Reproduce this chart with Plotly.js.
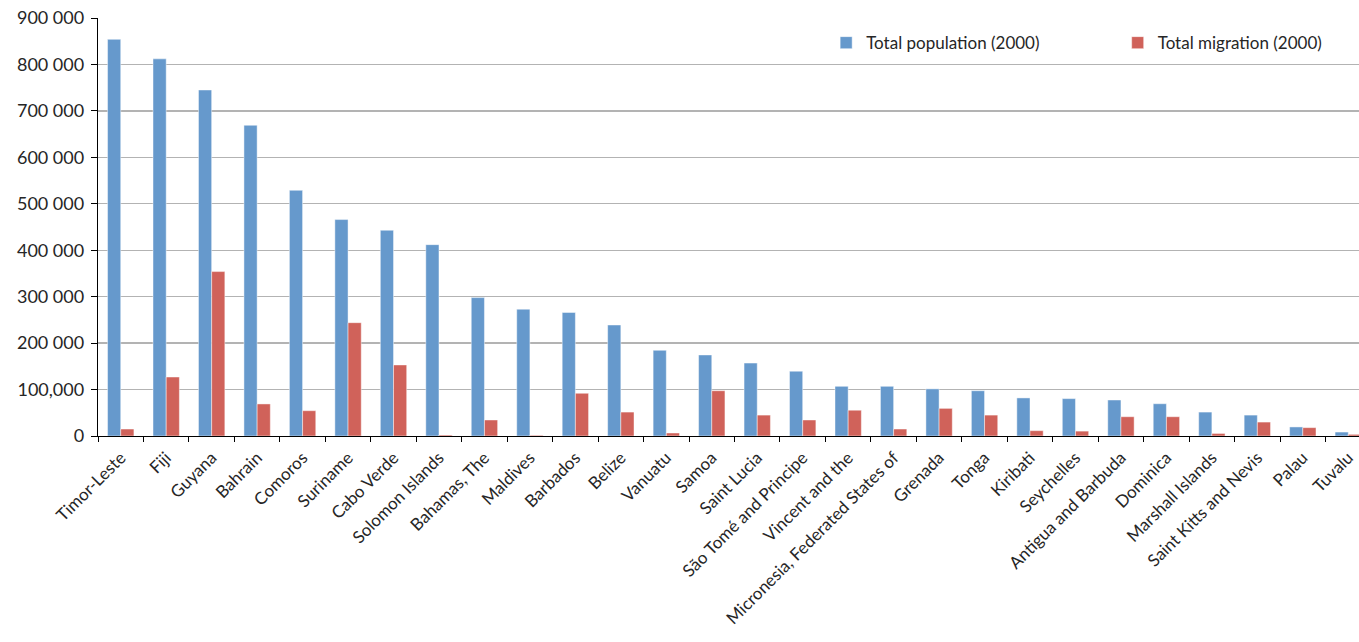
<!DOCTYPE html>
<html>
<head>
<meta charset="utf-8">
<script src="https://cdn.plot.ly/plotly-3.0.1.min.js"></script>
<style>html,body{margin:0;padding:0;background:#fff;overflow:hidden;}#chart{width:1371px;height:642px;}</style>
</head>
<body>
<div id="chart"></div>
<script>
const countries = ["Timor-Leste","Fiji","Guyana","Bahrain","Comoros","Suriname","Cabo Verde","Solomon Islands","Bahamas, The","Maldives","Barbados","Belize","Vanuatu","Samoa","Saint Lucia","São Tomé and Principe","Vincent and the","Micronesia, Federated States of","Grenada","Tonga","Kiribati","Seychelles","Antigua and Barbuda","Dominica","Marshall Islands","Saint Kitts and Nevis","Palau","Tuvalu"];
const population = [854000,812000,745000,669000,529000,466000,443000,412000,298000,273000,266000,239000,184500,174500,157000,139500,107000,107000,101500,97500,82000,80500,77500,69500,51500,45000,19500,8500];
const migration = [15000,127000,354000,69000,54500,244000,153000,2000,34500,1500,92000,51500,6500,97500,45000,34500,55500,15000,59500,45000,11500,10500,41500,41500,5500,30000,18000,3500];
const yTickVals = [0,100000,200000,300000,400000,500000,600000,700000,800000,900000];
const yTickText = ["0","100,000","200 000","300 000","400 000","500 000","600 000","700 000","800 000","900 000"];
const seriesNames = ["Total population (2000)","Total migration (2000)"];

const fam = "Lato, 'Open Sans', sans-serif";
const txt = "#262626";
const data = [
  {type:"bar", x: countries, y: population, name: seriesNames[0],
   marker:{color:"#6699cc", line:{color:"rgba(255,255,255,0.45)", width:1}}, legend:"legend"},
  {type:"bar", x: countries, y: migration, name: seriesNames[1],
   marker:{color:"#d0625a", line:{color:"rgba(255,255,255,0.45)", width:1}}, legend:"legend2"}
];
const layout = {
  width:1371, height:642,
  margin:{l:98, r:0, t:18, b:206},
  paper_bgcolor:"#fff", plot_bgcolor:"#fff",
  font:{family:fam, size:16, color:txt},
  barmode:"group", bargap:0.42, bargroupgap:0,
  xaxis:{type:"category", tickangle:-45, ticks:"outside", tickson:"boundaries", ticklen:5,
         tickcolor:"#000", showline:true, linecolor:"#000", linewidth:1.2, showgrid:false,
         ticklabelstandoff:4,
         tickfont:{family:fam, size:17, color:txt}, automargin:false},
  yaxis:{range:[0,900000], tickvals:yTickVals, ticktext:yTickText, ticks:"outside", ticklen:6,
         tickcolor:"#000", showline:true, linecolor:"#000", linewidth:1.2,
         showgrid:true, gridcolor:"#b3b3b3", gridwidth:1.3, zeroline:false,
         ticklabelstandoff:3,
         tickfont:{family:fam, size:18, color:txt}, automargin:false},
  legend:{x:0.572, y:0.94, xanchor:"left", yanchor:"middle", orientation:"h", bgcolor:"rgba(0,0,0,0)",
          font:{family:fam, size:17, color:txt}},
  legend2:{x:0.801, y:0.94, xanchor:"left", yanchor:"middle", orientation:"h", bgcolor:"rgba(0,0,0,0)",
          font:{family:fam, size:17, color:txt}},
  showlegend:true
};
Plotly.newPlot("chart", data, layout, {displayModeBar:false, staticPlot:true});
</script>
</body>
</html>
